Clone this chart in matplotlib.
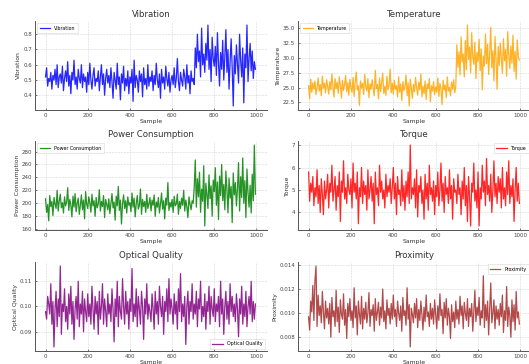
import numpy as np
import matplotlib
matplotlib.use("Agg")
import matplotlib.pyplot as plt

sample = np.arange(0, 1000, 5)
x_ticks = [0, 200, 400, 600, 800, 1000]

vibration = [
    0.52,0.58,0.46,0.51,0.49,0.55,0.44,0.53,0.50,0.57,0.47,0.60,0.45,0.52,0.54,0.48,0.59,0.43,0.51,0.56,
    0.49,0.62,0.46,0.53,0.41,0.55,0.50,0.63,0.47,0.52,0.44,0.57,0.51,0.48,0.60,0.45,0.54,0.49,0.52,0.42,
    0.55,0.47,0.61,0.50,0.44,0.53,0.58,0.46,0.51,0.49,0.56,0.43,0.52,0.60,0.47,0.54,0.40,0.51,0.57,0.48,
    0.53,0.45,0.58,0.49,0.38,0.55,0.50,0.44,0.61,0.47,0.52,0.37,0.54,0.48,0.59,0.43,0.51,0.46,0.56,0.41,
    0.52,0.48,0.57,0.36,0.63,0.45,0.53,0.50,0.42,0.56,0.49,0.54,0.39,0.58,0.47,0.51,0.44,0.60,0.46,0.52,
    0.49,0.56,0.43,0.53,0.47,0.61,0.50,0.45,0.54,0.38,0.57,0.48,0.52,0.44,0.59,0.51,0.46,0.55,0.42,0.50,
    0.53,0.47,0.58,0.45,0.51,0.64,0.49,0.43,0.55,0.50,0.46,0.57,0.52,0.44,0.60,0.48,0.53,0.41,0.56,0.49,
    0.51,0.47,0.71,0.58,0.80,0.62,0.69,0.52,0.84,0.60,0.67,0.55,0.74,0.63,0.86,0.57,0.70,0.49,0.78,0.64,
    0.59,0.72,0.53,0.81,0.61,0.46,0.68,0.57,0.76,0.50,0.65,0.83,0.55,0.70,0.44,0.62,0.77,0.58,0.33,0.66,
    0.54,0.73,0.60,0.48,0.80,0.63,0.52,0.71,0.35,0.67,0.58,0.86,0.49,0.64,0.74,0.56,0.69,0.51,0.62,0.57,
]
vibration_ticks = [0.4, 0.5, 0.6, 0.7, 0.8]

temperature = [
    25.3,23.1,26.4,24.2,25.8,24.7,26.1,23.8,25.0,26.6,24.4,25.5,23.6,26.9,24.9,25.7,24.1,26.3,25.2,23.9,
    26.0,24.6,27.3,25.1,23.4,26.5,24.8,25.9,24.0,26.8,25.4,23.2,26.2,24.5,25.6,27.0,24.3,25.8,23.7,26.4,
    25.0,24.2,26.7,23.5,25.9,27.6,24.6,25.3,22.0,26.1,24.9,25.7,23.8,27.2,25.1,24.4,26.5,23.3,25.6,24.7,
    26.3,25.0,23.6,27.9,24.8,25.5,23.1,26.6,24.3,25.8,27.4,24.0,25.2,23.7,26.9,24.6,25.4,28.1,24.1,25.7,
    23.9,26.2,24.7,25.3,23.4,26.8,24.2,25.6,22.8,26.0,24.5,25.1,27.1,23.6,25.8,21.9,26.4,24.9,23.2,25.5,
    24.3,26.7,25.0,23.7,25.9,24.6,27.3,23.4,25.2,24.0,26.1,23.0,25.6,24.8,26.5,22.6,25.3,24.4,26.0,23.8,
    25.1,24.2,26.6,23.5,25.7,24.9,22.1,26.2,24.6,25.4,23.3,26.8,24.4,25.0,23.6,25.9,24.7,26.3,24.1,25.2,
    32.2,28.4,31.0,27.1,33.5,29.3,30.6,26.8,32.9,28.0,35.5,29.7,31.8,27.5,34.2,30.1,28.9,32.6,26.5,30.9,
    29.4,33.1,27.8,31.5,24.6,30.3,28.6,34.0,29.0,32.3,27.2,30.7,35.1,28.3,31.2,26.1,33.6,29.8,24.7,31.9,
    28.7,32.5,30.0,27.4,33.2,29.5,31.4,26.9,34.4,30.4,28.2,32.0,29.1,33.8,27.7,31.1,26.4,33.0,30.2,29.6,
]
temperature_ticks = [22.5, 25.0, 27.5, 30.0, 32.5, 35.0]

power = [
    207,186,198,173,212,195,203,181,209,199,192,220,188,204,214,193,201,185,210,196,
    202,224,189,206,197,179,211,194,215,187,200,208,183,197,213,190,205,176,218,199,
    192,210,201,186,214,196,204,180,209,193,199,221,188,203,195,212,178,206,198,190,
    207,184,200,215,193,202,174,211,196,226,189,205,168,199,213,192,204,185,210,197,
    201,187,216,194,208,179,200,212,191,197,222,183,206,195,203,186,214,192,199,209,
    188,205,197,213,180,202,194,209,185,199,216,191,204,176,208,197,232,189,201,194,
    206,186,211,196,199,214,183,203,192,208,197,220,188,205,195,178,210,199,190,204,
    200,225,267,194,238,210,248,186,222,203,258,165,231,214,192,244,207,227,180,236,
    218,255,197,233,175,242,212,260,204,229,190,250,221,185,239,208,226,170,247,213,
    232,196,223,263,188,241,209,270,200,235,178,253,216,194,228,185,245,204,290,214,
]
power_ticks = [160, 180, 200, 220, 240, 260, 280]

torque = [
    5.8,4.5,5.3,4.9,5.6,4.3,5.1,4.7,5.9,4.4,5.2,4.0,5.5,4.8,3.9,5.4,4.6,5.0,5.7,4.2,
    5.3,4.9,6.1,4.5,5.0,5.6,4.1,5.2,4.7,5.8,3.6,5.4,4.9,6.3,4.6,5.1,4.4,5.7,5.0,4.8,
    5.5,4.2,6.2,4.9,5.3,4.6,5.8,3.5,5.1,4.7,6.0,4.4,5.4,4.8,5.2,4.1,5.9,4.6,5.0,5.6,
    4.5,5.3,3.5,5.8,4.8,5.1,4.3,6.1,4.9,5.4,4.6,5.0,4.2,5.7,4.7,5.2,4.9,5.5,4.4,5.1,
    6.0,4.6,5.3,3.9,5.6,4.8,5.0,4.3,5.9,4.5,5.2,4.1,5.4,4.7,5.8,4.4,7.0,4.6,5.1,4.8,
    5.5,4.2,5.9,3.8,5.2,4.9,5.6,4.4,5.0,3.7,5.7,4.6,5.3,4.1,6.1,4.8,5.1,4.5,5.4,3.9,
    5.2,4.7,5.8,4.3,5.0,6.2,4.5,5.3,4.0,5.6,4.8,5.1,4.4,5.9,4.6,5.2,3.7,5.5,4.9,5.0,
    4.4,5.7,4.8,5.1,3.9,5.4,4.6,6.0,4.3,5.2,3.6,5.6,4.7,3.4,5.3,4.9,6.2,4.5,5.0,4.2,
    5.8,3.4,5.1,4.6,6.1,4.9,5.4,4.3,6.4,4.8,5.2,4.5,5.7,4.0,5.0,6.3,4.7,5.3,4.4,5.6,
    4.9,5.5,4.2,6.0,4.6,5.1,4.3,5.8,4.8,6.3,4.4,5.2,4.7,5.5,3.6,5.0,6.0,4.5,5.3,4.4,
]
torque_ticks = [4, 5, 6, 7]

optical_quality = [
    0.098,0.095,0.104,0.101,0.097,0.109,0.093,0.102,0.084,0.099,0.106,0.092,0.103,0.096,0.116,0.089,0.101,0.098,0.107,0.094,
    0.100,0.091,0.105,0.097,0.108,0.093,0.102,0.087,0.099,0.104,0.095,0.110,0.092,0.101,0.097,0.106,0.090,0.103,0.098,0.094,
    0.105,0.096,0.101,0.093,0.108,0.099,0.091,0.104,0.097,0.102,0.089,0.106,0.095,0.100,0.109,0.093,0.103,0.098,0.092,0.105,
    0.097,0.101,0.094,0.107,0.099,0.086,0.103,0.096,0.110,0.092,0.104,0.098,0.095,0.111,0.100,0.093,0.106,0.097,0.102,0.091,
    0.103,0.098,0.115,0.094,0.101,0.096,0.107,0.092,0.104,0.099,0.093,0.106,0.100,0.087,0.103,0.097,0.109,0.095,0.101,0.098,
    0.094,0.105,0.099,0.091,0.106,0.097,0.102,0.093,0.108,0.100,0.096,0.104,0.089,0.102,0.098,0.107,0.094,0.111,0.097,0.103,
    0.099,0.093,0.105,0.097,0.102,0.091,0.107,0.098,0.113,0.094,0.101,0.096,0.104,0.085,0.100,0.106,0.093,0.102,0.098,0.109,
    0.095,0.101,0.097,0.106,0.092,0.103,0.099,0.110,0.094,0.100,0.096,0.105,0.091,0.102,0.098,0.108,0.093,0.104,0.099,0.096,
    0.107,0.094,0.101,0.098,0.104,0.092,0.110,0.097,0.103,0.089,0.100,0.106,0.095,0.102,0.093,0.109,0.098,0.104,0.096,0.101,
    0.094,0.105,0.099,0.088,0.103,0.097,0.108,0.093,0.101,0.096,0.106,0.092,0.100,0.104,0.097,0.110,0.094,0.102,0.095,0.101,
]
optical_ticks = [0.09, 0.10, 0.11]

proximity = [
    0.0097,0.0086,0.0110,0.0101,0.0123,0.0094,0.0127,0.0139,0.0089,0.0115,0.0098,0.0106,0.0092,0.0118,0.0101,0.0087,0.0110,0.0096,0.0104,0.0091,
    0.0108,0.0080,0.0113,0.0097,0.0102,0.0089,0.0119,0.0093,0.0105,0.0084,0.0111,0.0099,0.0095,0.0116,0.0090,0.0103,0.0079,0.0108,0.0097,0.0112,
    0.0094,0.0102,0.0088,0.0121,0.0096,0.0106,0.0082,0.0110,0.0099,0.0091,0.0114,0.0087,0.0104,0.0095,0.0109,0.0092,0.0100,0.0117,0.0089,0.0103,
    0.0098,0.0107,0.0085,0.0112,0.0094,0.0101,0.0109,0.0090,0.0105,0.0096,0.0120,0.0093,0.0102,0.0087,0.0111,0.0098,0.0104,0.0091,0.0108,0.0095,
    0.0115,0.0097,0.0103,0.0089,0.0110,0.0100,0.0094,0.0106,0.0085,0.0113,0.0098,0.0102,0.0090,0.0121,0.0095,0.0107,0.0072,0.0104,0.0099,0.0092,
    0.0108,0.0096,0.0112,0.0088,0.0103,0.0094,0.0110,0.0099,0.0086,0.0105,0.0093,0.0115,0.0097,0.0101,0.0089,0.0108,0.0095,0.0104,0.0091,0.0111,
    0.0099,0.0087,0.0106,0.0094,0.0116,0.0098,0.0103,0.0083,0.0109,0.0096,0.0112,0.0090,0.0104,0.0097,0.0079,0.0107,0.0093,0.0101,0.0088,0.0110,
    0.0095,0.0103,0.0091,0.0114,0.0098,0.0106,0.0087,0.0109,0.0100,0.0094,0.0112,0.0089,0.0104,0.0097,0.0108,0.0085,0.0101,0.0119,0.0093,0.0105,
    0.0098,0.0113,0.0090,0.0102,0.0096,0.0131,0.0088,0.0107,0.0094,0.0110,0.0082,0.0104,0.0125,0.0092,0.0100,0.0111,0.0087,0.0106,0.0095,0.0103,
    0.0090,0.0108,0.0097,0.0115,0.0084,0.0102,0.0094,0.0122,0.0089,0.0105,0.0098,0.0080,0.0111,0.0093,0.0107,0.0086,0.0118,0.0096,0.0101,0.0091,
]
proximity_ticks = [0.008, 0.010, 0.012, 0.014]

panels = [
    ("Vibration", vibration, vibration_ticks, "blue", "upper left"),
    ("Temperature", temperature, temperature_ticks, "orange", "upper left"),
    ("Power Consumption", power, power_ticks, "green", "upper left"),
    ("Torque", torque, torque_ticks, "red", "upper right"),
    ("Optical Quality", optical_quality, optical_ticks, "purple", "lower right"),
    ("Proximity", proximity, proximity_ticks, "brown", "upper right"),
]

W, H = 529, 364
fig = plt.figure(figsize=(W / 100, H / 100), dpi=100)

col_left = [35 / W, 298 / W]
col_width = [232 / W, 233 / W]
row_tops = [21, 141, 262]
ax_h = 89

for i, (name, vals, yt, color, loc) in enumerate(panels):
    r, c = divmod(i, 2)
    bottom = 1 - (row_tops[r] + ax_h) / H
    ax = fig.add_axes([col_left[c], bottom, col_width[c], ax_h / H])
    ax.plot(sample, vals, color=color, lw=0.9, alpha=0.85, label=name)
    ax.set_xlim(-50, 1050)
    ax.set_xticks(x_ticks)
    ax.set_yticks(yt)
    ax.set_title(name, fontsize=6.2, color="#333333", pad=3)
    ax.set_xlabel("Sample", fontsize=4.4, color="#333333", labelpad=1)
    ax.set_ylabel(name, fontsize=4.4, color="#333333", labelpad=1.5)
    ax.tick_params(direction="in", length=1.5, width=0.5, labelsize=4.0,
                   colors="#444444", pad=2)
    ax.grid(True, ls="--", lw=0.4, color="#cccccc", alpha=0.8)
    for s in ("top", "right"):
        ax.spines[s].set_visible(False)
    for s in ("left", "bottom"):
        ax.spines[s].set_color("#555555")
        ax.spines[s].set_linewidth(0.7)
    leg = ax.legend(loc=loc, fontsize=3.4, frameon=True, fancybox=False,
                    handlelength=2.2, borderpad=0.5)
    leg.get_frame().set_linewidth(0.4)
    leg.get_frame().set_edgecolor("#cccccc")

fig.savefig("out.png", dpi=100)
